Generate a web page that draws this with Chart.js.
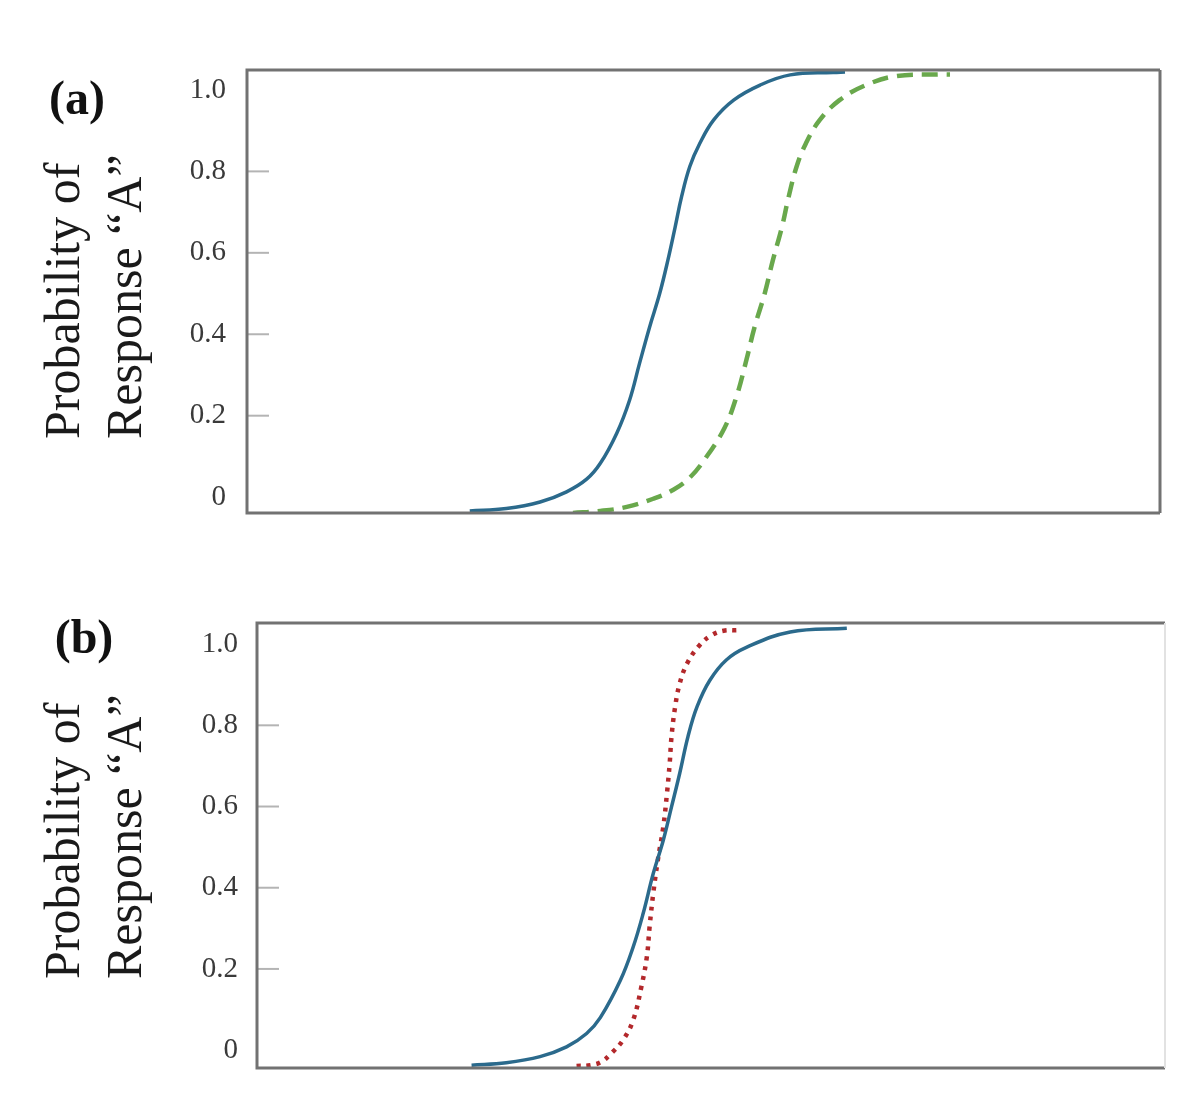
<!DOCTYPE html>
<html>
<head>
<meta charset="utf-8">
<title>Probability of Response “A”</title>
<script src="https://cdn.jsdelivr.net/npm/chart.js@4.4.1/dist/chart.umd.min.js"></script>
<style>
  body { margin: 0; background: #fff; }
  .panel { position: absolute; left: 0; width: 1200px; height: 554px; }
  #panelA { top: 0; }
  #panelB { top: 554px; }
</style>
</head>
<body>
<div class="panel" id="panelA"><canvas id="chartA"></canvas></div>
<div class="panel" id="panelB"><canvas id="chartB"></canvas></div>
<script>
// y axis ticks and title (x axis has no labels in the figure)
var yTicks = [0, 0.2, 0.4, 0.6, 0.8, 1.0];
var yTitle = ['Probability of', 'Response \u201cA\u201d'];

// panel (a): solid blue curve
var blueAX = [24.4, 28.4, 32.1, 35.0, 37.2, 38.7, 40.5, 41.9, 43.0, 44.1, 45.2, 46.1, 46.9, 47.6, 48.5, 49.6, 51.1, 53.3, 56.2, 59.5, 64.2, 65.5];
var blueAY = [-0.034, -0.028, -0.012, 0.013, 0.044, 0.083, 0.157, 0.238, 0.329, 0.418, 0.500, 0.582, 0.664, 0.738, 0.812, 0.869, 0.926, 0.975, 1.012, 1.037, 1.043, 1.044];

// panel (a): dashed green curve
var greenX = [35.7, 38.7, 41.6, 44.5, 46.7, 48.5, 50.2, 52.3, 53.6, 54.7, 55.6, 56.7, 57.6, 58.6, 59.3, 60.2, 61.2, 62.7, 64.9, 67.8, 71.1, 75.8, 77.0];
var greenY = [-0.039, -0.034, -0.024, -0.004, 0.018, 0.048, 0.095, 0.170, 0.246, 0.337, 0.418, 0.500, 0.582, 0.664, 0.735, 0.812, 0.868, 0.925, 0.975, 1.012, 1.034, 1.038, 1.038];

// panel (b): solid blue curve
var blueBX = [24.6, 28.4, 32.1, 35.0, 37.2, 38.7, 40.9, 42.3, 43.4, 44.5, 45.6, 46.5, 47.4, 48.3, 49.3, 50.7, 52.5, 54.7, 59.5, 65.7];
var blueBY = [-0.037, -0.031, -0.016, 0.008, 0.041, 0.080, 0.172, 0.254, 0.337, 0.435, 0.517, 0.599, 0.682, 0.772, 0.846, 0.911, 0.961, 0.992, 1.030, 1.039];

// panel (b): dotted red curve
var redX = [36.1, 37.6, 38.8, 39.9, 41.2, 42.3, 43.2, 43.8, 44.1, 44.5, 45.0, 45.6, 46.0, 46.3, 46.5, 46.9, 47.4, 48.2, 49.6, 50.9, 52.2, 53.6];
var redY = [-0.039, -0.037, -0.029, -0.008, 0.025, 0.074, 0.156, 0.230, 0.304, 0.386, 0.468, 0.550, 0.632, 0.706, 0.772, 0.846, 0.903, 0.952, 0.998, 1.022, 1.033, 1.034];

function points(xs, ys) {
    return xs.map(function (x, i) { return { x: x, y: ys[i] }; });
}

function curve(xs, ys, color, width, dash) {
    return {
        data: points(xs, ys),
        borderColor: color,
        borderWidth: width,
        borderDash: dash,
        borderCapStyle: 'butt',
        pointRadius: 0,
        fill: false,
        tension: 0.4
    };
}

// frame, short inner ticks, axis title and the panel letter
var framePlugin = {
    id: 'frame',
    afterDraw: function (chart, args, opts) {
        var ctx = chart.ctx, a = chart.chartArea, y = chart.scales.y;
        ctx.save();
        ctx.strokeStyle = '#b4b4b4';
        ctx.lineWidth = 2;
        yTicks.forEach(function (v) {
            if (v <= 0 || v >= 1) return;
            var py = y.getPixelForValue(v);
            ctx.beginPath();
            ctx.moveTo(a.left, py);
            ctx.lineTo(a.left + 22, py);
            ctx.stroke();
        });
        ctx.lineWidth = 3;
        ctx.strokeStyle = '#727272';
        ctx.beginPath();
        ctx.moveTo(a.right, a.top);
        ctx.lineTo(a.left, a.top);
        ctx.lineTo(a.left, a.bottom);
        ctx.lineTo(a.right, a.bottom);
        ctx.stroke();
        ctx.strokeStyle = opts.rightColor;
        ctx.lineWidth = opts.rightWidth;
        ctx.beginPath();
        ctx.moveTo(a.right, a.top);
        ctx.lineTo(a.right, a.bottom);
        ctx.stroke();

        ctx.fillStyle = '#111';
        ctx.font = 'bold 48px "Liberation Serif"';
        ctx.textAlign = 'center';
        ctx.textBaseline = 'middle';
        ctx.fillText(opts.label, opts.labelX, opts.labelY);

        // two-line rotated y title, both lines starting at the same height
        ctx.fillStyle = '#1a1a1a';
        ctx.font = '50px "Liberation Serif"';
        ctx.textAlign = 'left';
        ctx.translate(66, opts.titleBottom);
        ctx.rotate(-Math.PI / 2);
        yTitle.forEach(function (line, i) {
            ctx.fillText(line, 0, i * 62);
        });
        ctx.restore();
    }
};

function makeChart(id, datasets, p) {
    var ctx = document.getElementById(id).getContext('2d');
    return new Chart(ctx, {
        type: 'line',
        data: { datasets: datasets },
        plugins: [framePlugin],
        options: {
            responsive: true,
            maintainAspectRatio: false,
            animation: false,
            layout: { padding: { left: 0, top: p.top, right: p.right, bottom: p.bottom } },
            plugins: {
                legend: { display: false },
                tooltip: { enabled: false },
                frame: {
                    label: p.label, labelX: p.labelX, labelY: p.labelY,
                    rightColor: p.rightColor, rightWidth: p.rightWidth, titleBottom: p.titleBottom
                }
            },
            scales: {
                x: { type: 'linear', min: p.xMin, max: p.xMax, display: false },
                y: {
                    min: p.yMin,
                    max: p.yMax,
                    afterBuildTicks: function (s) {
                        s.ticks = yTicks.map(function (v) { return { value: v }; });
                    },
                    afterFit: function (s) { s.width = p.axisWidth; },
                    grid: { display: false, drawTicks: false },
                    border: { display: false },
                    ticks: {
                        padding: p.tickPad,
                        color: '#3a3a3a',
                        font: { family: 'Liberation Serif', size: 29 },
                        callback: function (v) { return v === 0 ? '0' : v.toFixed(1); }
                    }
                }
            }
        }
    });
}

makeChart('chartA', [
    curve(blueAX, blueAY, '#2b6a8c', 3.5, []),
    curve(greenX, greenY, '#69a84c', 4.5, [16, 9])
], {
    top: 70, right: 40, bottom: 41, axisWidth: 247, tickPad: 21,
    xMin: 0, xMax: 100, yMin: -0.039, yMax: 1.049,
    label: '(a)', labelX: 77, labelY: 102, rightColor: '#727272', rightWidth: 3, titleBottom: 439
});

makeChart('chartB', [
    curve(blueBX, blueBY, '#2b6a8c', 3.5, []),
    curve(redX, redY, '#b3282b', 4.5, [4, 6])
], {
    top: 69, right: 35, bottom: 40, axisWidth: 257, tickPad: 19,
    xMin: 1.1, xMax: 100.55, yMin: -0.044, yMax: 1.052,
    label: '(b)', labelX: 84, labelY: 87, rightColor: '#e2e2e2', rightWidth: 2, titleBottom: 425
});
</script>
</body>
</html>
